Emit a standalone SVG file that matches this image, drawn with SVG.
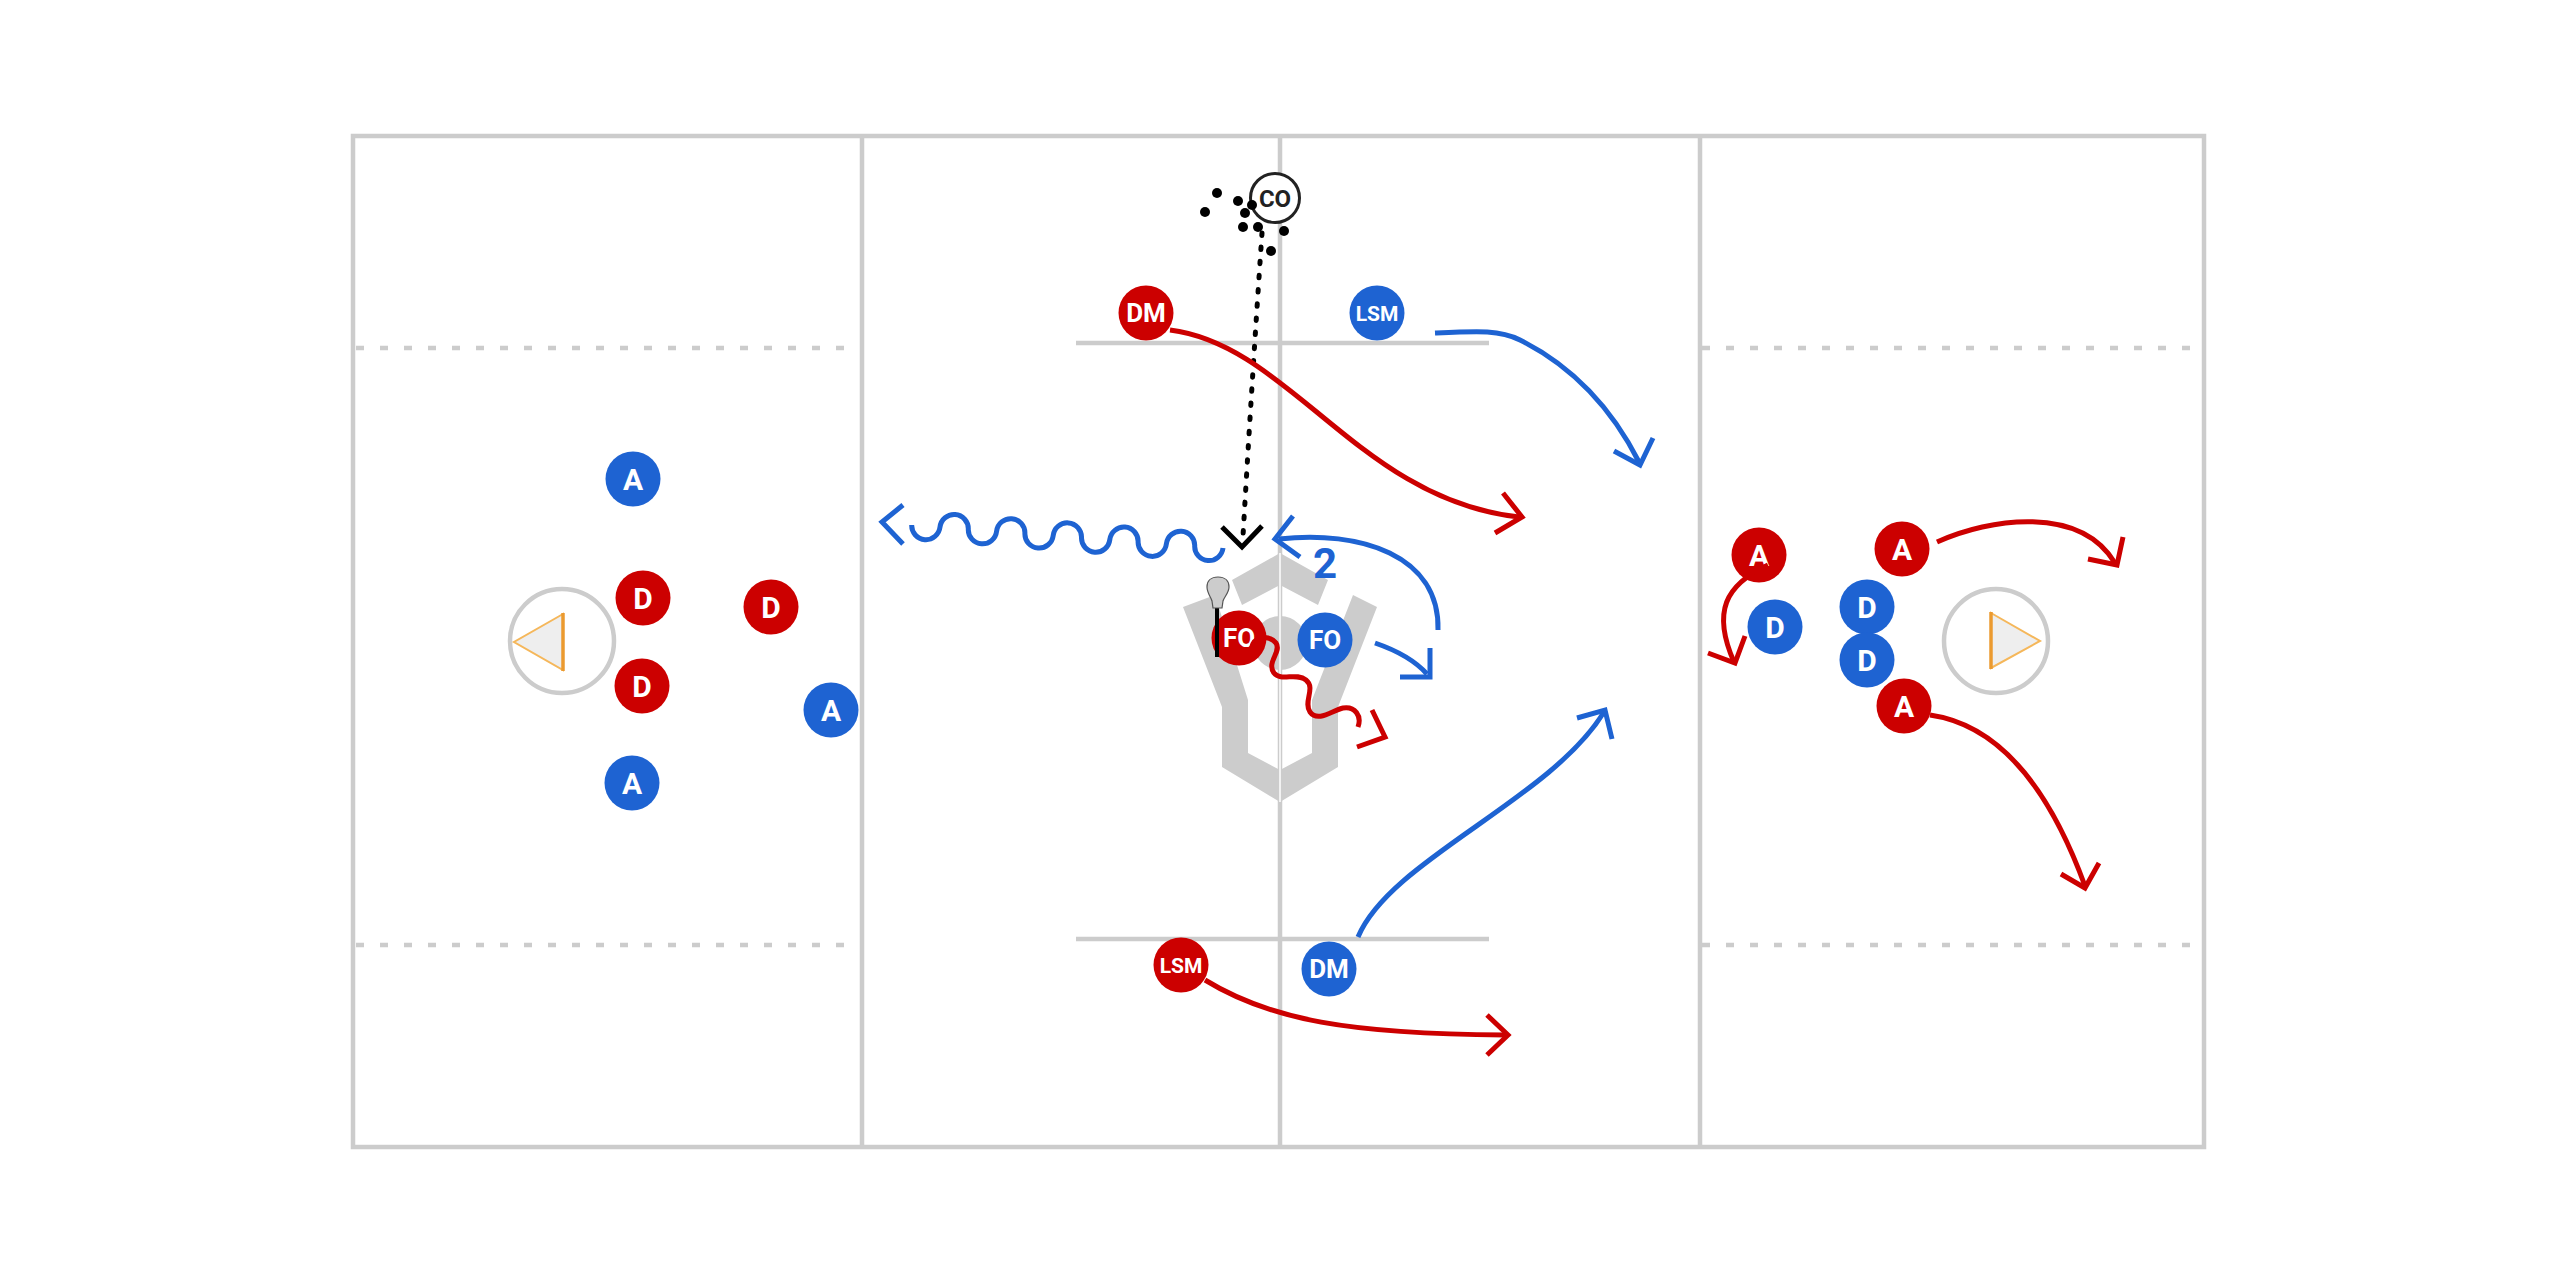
<svg xmlns="http://www.w3.org/2000/svg" width="2560" height="1280" viewBox="0 0 2560 1280">
<style>
.fl{fill:none;stroke:#ccc;stroke-width:4.5}
.dash{fill:none;stroke:#ccc;stroke-width:4.5;stroke-dasharray:8 16}
.tri{fill:#eee;stroke:#f5b75a;stroke-width:2}
.pipe{stroke:#eb9a2f;stroke-width:3.5}
.red{fill:#cc0000}
.blue{fill:#1e63d2}
.lbl{font-family:Roboto,"Liberation Sans",sans-serif;font-weight:700;fill:#fff;text-anchor:middle}
.f30{font-size:30px}
.f26{font-size:26px}
.f21{font-size:21px}
.cr{fill:none;stroke:#cc0000;stroke-width:5}
.cb{fill:none;stroke:#1e63d2;stroke-width:5}
.ck{fill:none;stroke:#000;stroke-width:5}
.dots{fill:none;stroke:#000;stroke-width:5;stroke-linecap:round;stroke-dasharray:2.5 11.7}
.ball{fill:#000}
</style>
<rect width="2560" height="1280" fill="#fff"/>
<g id="field">
  <rect class="fl" x="353" y="136" width="1851" height="1011"/>
  <line class="fl" x1="862" y1="136" x2="862" y2="1147"/>
  <line class="fl" x1="1700" y1="136" x2="1700" y2="1147"/>
  <line class="dash" x1="356" y1="348" x2="862" y2="348"/>
  <line class="dash" x1="356" y1="945" x2="862" y2="945"/>
  <line class="dash" x1="1702" y1="348" x2="2202" y2="348"/>
  <line class="dash" x1="1702" y1="945" x2="2202" y2="945"/>
  <line class="fl" x1="1076" y1="343" x2="1489" y2="343"/>
  <line class="fl" x1="1076" y1="939" x2="1489" y2="939"/>
  <line class="fl" x1="1280" y1="136" x2="1280" y2="1147"/>
  <circle class="fl" cx="562" cy="641" r="52"/>
  <polygon class="tri" points="563,614 514,642 563,670"/>
  <line class="pipe" x1="563" y1="613" x2="563" y2="671"/>
  <circle class="fl" cx="1996" cy="641" r="52"/>
  <polygon class="tri" points="1991,613 2040,641 1991,668"/>
  <line class="pipe" x1="1991" y1="612" x2="1991" y2="669"/>
  <g id="faceoff-mark" fill="#ccc">
    <polygon points="1232,580 1280,553 1328,580 1318,605 1280,585 1242,605"/>
    <polygon points="1183,607 1215,595 1248,700 1248,753 1280,770 1312,753 1312,700 1353,595 1377,607 1338,707 1338,767 1280,802 1222,767 1222,707"/>
    <circle cx="1280" cy="643" r="27"/>
    <line x1="1280" y1="553" x2="1280" y2="802" stroke="#f2f2f2" stroke-width="2"/>
  </g>
</g>
<g id="nodes">
  <g id="blue-A1"><circle class="blue" cx="633" cy="479" r="27.5"/><text class="lbl f30" x="633" y="489.7">A</text></g>
  <g id="blue-A2"><circle class="blue" cx="831" cy="710" r="27.5"/><text class="lbl f30" x="831" y="720.7">A</text></g>
  <g id="blue-A3"><circle class="blue" cx="632" cy="783" r="27.5"/><text class="lbl f30" x="632" y="793.7">A</text></g>
  <g id="red-D1"><circle class="red" cx="643" cy="598" r="27.5"/><text class="lbl f30" x="643" y="608.7">D</text></g>
  <g id="red-D2"><circle class="red" cx="771" cy="607" r="27.5"/><text class="lbl f30" x="771" y="617.7">D</text></g>
  <g id="red-D3"><circle class="red" cx="642" cy="686" r="27.5"/><text class="lbl f30" x="642" y="696.7">D</text></g>
  <g id="red-DM"><circle class="red" cx="1146" cy="313" r="27.5"/><text class="lbl f26" x="1146" y="322.2">DM</text></g>
  <g id="blue-LSM"><circle class="blue" cx="1377" cy="313" r="27.5"/><text class="lbl f21" x="1377" y="320.5">LSM</text></g>
  <g id="coach"><circle cx="1275" cy="198" r="24.5" fill="#fff" stroke="#222" stroke-width="3"/><text class="lbl" x="1275" y="206.5" style="fill:#222;font-size:24px">CO</text></g>
  <g id="red-FO"><circle class="red" cx="1239" cy="638" r="27.5"/><text class="lbl f26" x="1239" y="647.2">FO</text></g>
  <g id="blue-FO"><circle class="blue" cx="1325" cy="640" r="27.5"/><text class="lbl f26" x="1325" y="649.2">FO</text></g>
  <g id="red-LSM"><circle class="red" cx="1181" cy="965" r="27.5"/><text class="lbl f21" x="1181" y="972.5">LSM</text></g>
  <g id="blue-DM"><circle class="blue" cx="1329" cy="969" r="27.5"/><text class="lbl f26" x="1329" y="978.2">DM</text></g>
  <g id="red-A1"><circle class="red" cx="1759" cy="555" r="27.5"/><text class="lbl f30" x="1759" y="565.7">A</text></g>
  <g id="red-A2"><circle class="red" cx="1902" cy="549" r="27.5"/><text class="lbl f30" x="1902" y="559.7">A</text></g>
  <g id="red-A3"><circle class="red" cx="1904" cy="706" r="27.5"/><text class="lbl f30" x="1904" y="716.7">A</text></g>
  <g id="blue-D1"><circle class="blue" cx="1775" cy="627" r="27.5"/><text class="lbl f30" x="1775" y="637.7">D</text></g>
  <g id="blue-D2"><circle class="blue" cx="1867" cy="607" r="27.5"/><text class="lbl f30" x="1867" y="617.7">D</text></g>
  <g id="blue-D3"><circle class="blue" cx="1867" cy="660" r="27.5"/><text class="lbl f30" x="1867" y="670.7">D</text></g>
  <g id="stick">
    <line x1="1217" y1="606" x2="1217" y2="657" stroke="#000" stroke-width="4"/>
    <path d="M1218,577 C1225,577 1229,581 1229,587 C1229,593 1224,597 1223,601 L1222,608 L1213,608 L1212,601 C1211,597 1207,593 1207,587 C1207,581 1211,577 1218,577 Z" fill="#ccc" stroke="#555" stroke-width="1.2"/>
  </g>
</g>
<g id="balls">
  <circle class="ball" cx="1217" cy="193" r="5"/>
  <circle class="ball" cx="1205" cy="212" r="5"/>
  <circle class="ball" cx="1238" cy="201" r="5"/>
  <circle class="ball" cx="1252" cy="205" r="5"/>
  <circle class="ball" cx="1245" cy="213" r="5"/>
  <circle class="ball" cx="1243" cy="227" r="5"/>
  <circle class="ball" cx="1258" cy="227" r="5"/>
  <circle class="ball" cx="1284" cy="231" r="5"/>
  <circle class="ball" cx="1271" cy="251" r="5"/>
</g>
<g id="connectors">
  <path class="dots" d="M1262,233 Q1252,380 1243,536"/>
  <polyline class="ck" points="1222,527 1242,547 1262,526"/>
  <path class="cb" d="M911.7,525 a14.2,14.2 0 0 0 28.3,2.09 a14.2,14.2 0 0 1 28.3,2.09 a14.2,14.2 0 0 0 28.3,2.09 a14.2,14.2 0 0 1 28.3,2.09 a14.2,14.2 0 0 0 28.3,2.09 a14.2,14.2 0 0 1 28.3,2.09 a14.2,14.2 0 0 0 28.3,2.09 a14.2,14.2 0 0 1 28.3,2.09 a14.2,14.2 0 0 0 28.3,2.09 a14.2,14.2 0 0 1 28.3,2.09 a14.2,14.2 0 0 0 28.3,2.09"/>
  <polyline class="cb" points="903,505 882,522 903,544"/>
  <path class="cb" d="M1438,630 C1440,555 1360,530 1279,539"/>
  <polyline class="cb" points="1293,516 1275,539 1300,557"/>
  <text x="1325" y="578" style="font-family:Roboto,'Liberation Sans',sans-serif;font-weight:700;font-size:42px;fill:#1e63d2;text-anchor:middle">2</text>
  <path class="cb" d="M1375,643 Q1410,655 1427,674"/>
  <polyline class="cb" points="1430,648 1430,677 1400,677"/>
  <path class="cr" d="M1251,649 C1254,636 1268,634 1276,643 C1282,652 1266,662 1274,673 C1281,682 1296,672 1306,680 C1316,688 1303,702 1310,712 C1318,723 1333,710 1343,708 C1355,706 1362,716 1358,727"/>
  <polyline class="cr" points="1372,710 1385,737 1357,747"/>
  <path class="cr" d="M1170,330 C1290,345 1360,500 1519,517"/>
  <polyline class="cr" points="1503,493 1522,517 1495,533"/>
  <path class="cb" d="M1435,333 C1480,331 1500,330 1520,340 C1570,365 1610,405 1639,462"/>
  <polyline class="cb" points="1614,451 1640,465 1653,438"/>
  <path class="cr" d="M1205,980 C1270,1020 1350,1034 1505,1035"/>
  <polyline class="cr" points="1487,1015 1508,1035 1487,1055"/>
  <path class="cb" d="M1358,937 C1390,860 1550,800 1604,712"/>
  <polyline class="cb" points="1577,718 1605,710 1612,739"/>
  <path class="cr" d="M1768,565 C1725,585 1712,612 1734,662"/>
  <polyline class="cr" points="1708,653 1735,663 1745,636"/>
  <path class="cr" d="M1937,542 C1990,518 2080,505 2115,563"/>
  <polyline class="cr" points="2088,559 2117,565 2123,537"/>
  <path class="cr" d="M1930,715 C2000,725 2050,790 2085,886"/>
  <polyline class="cr" points="2061,874 2085,888 2099,863"/>
</g>
</svg>
